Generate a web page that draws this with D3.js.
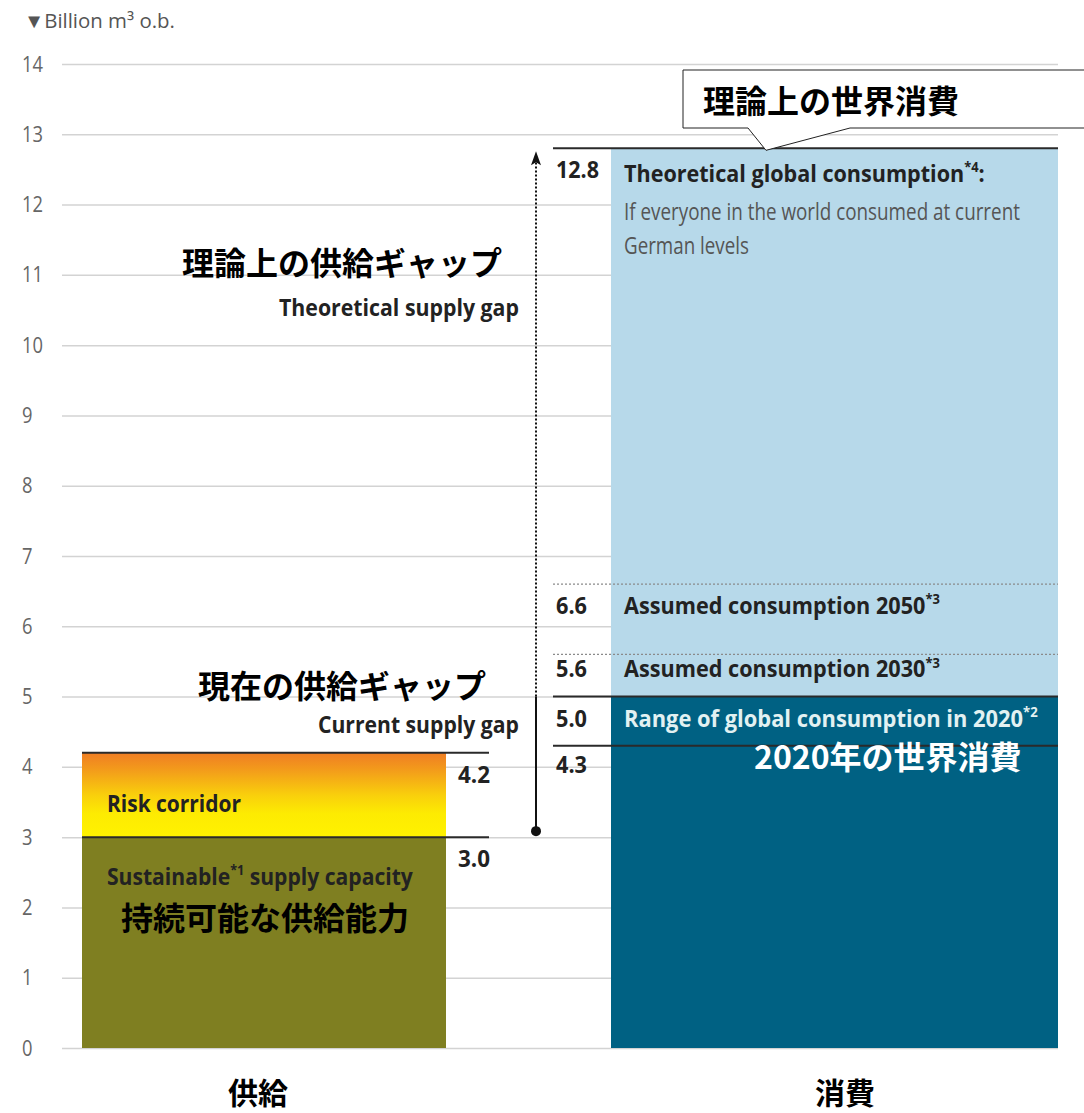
<!DOCTYPE html>
<html><head><meta charset="utf-8">
<script src="https://cdn.jsdelivr.net/npm/d3@7"></script>
<style>
html,body{margin:0;padding:0;background:#fff;}
svg{display:block;}
.en{font-family:"Open Sans","Liberation Sans",sans-serif;}
.jp{font-family:"Noto Sans CJK JP",sans-serif;font-weight:700;}
</style></head>
<body>
<svg id="chart" width="1084" height="1113"></svg>
<script>
// ---------- DATA ----------
const categories = ["供給", "消費"];
const yTicks = [0,1,2,3,4,5,6,7,8,9,10,11,12,13,14];
const supplySegments = [
  {key:"sustainable", from:0, to:3.0},
  {key:"risk", from:3.0, to:4.2}
];
const supplyValues = [4.2, 3.0];
const consumptionSegments = [
  {key:"range2020", from:0, to:5.0},
  {key:"theoretical", from:5.0, to:12.8}
];
const consumptionValues = [12.8, 6.6, 5.6, 5.0, 4.3];
const consumptionLineStyles = ["solid","dotted","dotted","solid","solid"];
const gapStart = 3.0, gapCurrentEnd = 5.0, gapTheoreticalEnd = 12.8;
const unitLabel = "▼Billion m³ o.b.";

// ---------- LAYOUT ----------
const svg = d3.select("#chart");
const y = d3.scaleLinear().domain([0,14]).range([1048,64]);
const gridX1 = 62, gridX2 = 1058;
const barExtent = {"供給":[82,446], "消費":[611,1058]};
const colors = {sustainable:"#7f7f21", range2020:"#006183", theoretical:"#b7d9ea"};
const labelOffset = v => (v===5.6 ? 23 : (v===4.3 ? 27 : 30));

const defs = svg.append("defs");
const grad = defs.append("linearGradient").attr("id","riskGrad")
  .attr("x1",0).attr("y1",0).attr("x2",0).attr("y2",1);
[[0,"#ef7d24"],[0.2,"#f39b1b"],[0.5,"#f9cf0c"],[0.72,"#fdeb02"],[1,"#fff200"]]
  .forEach(([o,c])=>grad.append("stop").attr("offset",o).attr("stop-color",c));

// helper: condensed english text scaled to a target width
function enText(g, str, x, yb, opts){
  const o = Object.assign({size:23, weight:700, fill:"#222", anchor:"start", width:null, sup:null}, opts||{});
  const grp = g.append("g");
  const t = grp.append("text").attr("class","en")
    .attr("font-size",o.size).attr("font-weight",o.weight).attr("fill",o.fill);
  t.append("tspan").text(str);
  if (o.sup) {
    t.append("tspan").attr("font-size",o.size*0.6).attr("dy",-o.size*0.42).text(o.sup.s);
    if (o.sup.after) t.append("tspan").attr("dy",o.size*0.42).attr("font-size",o.size).text(o.sup.after);
  }
  const nat = t.node().getComputedTextLength();
  const sx = o.width ? o.width/nat : 0.8;
  const x0 = o.anchor==="end" ? x - nat*sx : x;
  grp.attr("transform",`translate(${x0},${yb}) scale(${sx},1)`);
  return grp;
}

// ---------- GRID + AXIS ----------
const axis = d3.axisLeft(y).tickValues(yTicks).tickSize(-(gridX2-gridX1)).tickPadding(0);
const ag = svg.append("g").attr("transform",`translate(${gridX1},0)`).call(axis);
ag.select(".domain").remove();
ag.selectAll(".tick line").attr("stroke","#d3d3d3").attr("stroke-width",1.5);
ag.selectAll(".tick text").remove();
const tickG = svg.append("g");
yTicks.forEach(v=>{
  enText(tickG, String(v), 22, y(v)+7.5, {size:22, weight:400, fill:"#666", width: String(v).length>1?21:10.5});
});
enText(svg, unitLabel, 24, 28, {size:20, weight:400, fill:"#555", width:151});

// ---------- BARS ----------
svg.append("g").selectAll("rect").data(supplySegments).join("rect")
  .attr("x",barExtent["供給"][0]).attr("width",barExtent["供給"][1]-barExtent["供給"][0])
  .attr("y",d=>y(d.to)).attr("height",d=>y(d.from)-y(d.to))
  .attr("fill",d=>d.key==="risk"?"url(#riskGrad)":colors[d.key]);
svg.append("g").selectAll("rect").data(consumptionSegments).join("rect")
  .attr("x",barExtent["消費"][0]).attr("width",barExtent["消費"][1]-barExtent["消費"][0])
  .attr("y",d=>y(d.to)).attr("height",d=>y(d.from)-y(d.to))
  .attr("fill",d=>colors[d.key]);

// ---------- LEVEL LINES ----------
svg.append("g").selectAll("line").data(supplyValues).join("line")
  .attr("x1",barExtent["供給"][0]).attr("x2",489)
  .attr("y1",d=>y(d)).attr("y2",d=>y(d)).attr("stroke","#2a2a2a").attr("stroke-width",2);
svg.append("g").selectAll("line").data(consumptionValues).join("line")
  .attr("x1",553).attr("x2",barExtent["消費"][1])
  .attr("y1",d=>y(d)).attr("y2",d=>y(d))
  .attr("stroke",(d,i)=>consumptionLineStyles[i]==="dotted"?"#8a8a8a":"#2a2a2a")
  .attr("stroke-width",(d,i)=>consumptionLineStyles[i]==="dotted"?1.2:2)
  .attr("stroke-dasharray",(d,i)=>consumptionLineStyles[i]==="dotted"?"2,2":null);

// value labels
const fmt = d3.format(".1f");
supplyValues.forEach(v=>enText(svg, fmt(v), 458, y(v)+30, {width:32}));
consumptionValues.forEach(v=>enText(svg, fmt(v), 556, y(v)+labelOffset(v), {width: v>=10?43:31}));

// ---------- GAP ARROW ----------
const ax = 536;
svg.append("line").attr("x1",ax).attr("x2",ax).attr("y1",y(gapStart)-6).attr("y2",y(gapCurrentEnd))
  .attr("stroke","#111").attr("stroke-width",2);
svg.append("line").attr("x1",ax).attr("x2",ax).attr("y1",y(gapCurrentEnd)).attr("y2",y(gapTheoreticalEnd)+12)
  .attr("stroke","#111").attr("stroke-width",2).attr("stroke-dasharray","2,2");
svg.append("circle").attr("cx",ax).attr("cy",y(gapStart)-6).attr("r",5).attr("fill","#111");
svg.append("path").attr("d",`M${ax},${y(gapTheoreticalEnd)+3} L${ax-5},${y(gapTheoreticalEnd)+17} L${ax},${y(gapTheoreticalEnd)+14} L${ax+5},${y(gapTheoreticalEnd)+17} Z`).attr("fill","#111");

// ---------- ENGLISH LABELS ----------
enText(svg, "Theoretical supply gap", 519, 316, {width:240, anchor:"end"});
enText(svg, "Current supply gap", 519, 733, {width:201, anchor:"end"});
enText(svg, "Risk corridor", 107, 812, {width:134});
enText(svg, "Sustainable", 107, 885, {width:306, sup:{s:"*1", after:" supply capacity"}});
enText(svg, "Theoretical global consumption", 624, 182, {width:361, sup:{s:"*4", after:":"}});
enText(svg, "If everyone in the world consumed at current", 624, 220, {weight:400, fill:"#555", width:396});
enText(svg, "German levels", 624, 254, {weight:400, fill:"#555", width:125});
enText(svg, "Assumed consumption 2050", 624, y(6.6)+labelOffset(6.6), {width:316, sup:{s:"*3"}});
enText(svg, "Assumed consumption 2030", 624, y(5.6)+labelOffset(5.6), {width:316, sup:{s:"*3"}});
enText(svg, "Range of global consumption in 2020", 624, y(5.0)+labelOffset(5.0), {width:414, fill:"#e2f1f2", sup:{s:"*2"}});

// ---------- CALLOUT ----------
svg.append("path")
  .attr("d","M683,70 H1092 V128 H850 L766,"+(y(gapTheoreticalEnd)+2)+" L748,128 H683 Z")
  .attr("fill","#fff").attr("stroke","#222").attr("stroke-width",1);

// ---------- JAPANESE LABELS ----------
const jp = (str,x,yb,size,fill,anchor)=>svg.append("text").attr("class","jp")
  .attr("x",x).attr("y",yb).attr("font-size",size).attr("fill",fill||"#000")
  .attr("text-anchor",anchor||"start").text(str);
jp("理論上の世界消費", 703, 113, 32);
jp("理論上の供給ギャップ", 182, 275, 32);
jp("現在の供給ギャップ", 198, 698, 32);
jp("持続可能な供給能力", 121, 930, 32);
jp("2020年の世界消費", 754, 769, 32, "#fff");
const catCenter = {"供給":258, "消費":845};
categories.forEach(c=>jp(c, catCenter[c], 1104, 30, "#000", "middle"));
</script>
</body></html>
